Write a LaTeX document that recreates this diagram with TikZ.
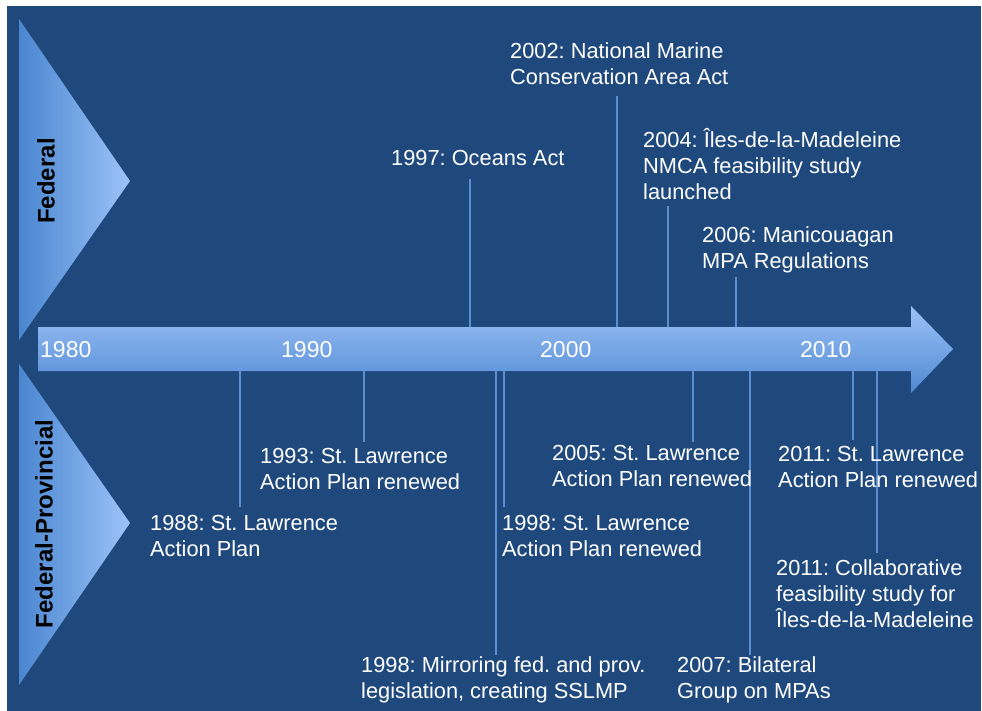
\documentclass[tikz,border=0pt]{standalone}
\usepackage{fontspec}
\setmainfont{Liberation Sans}
\frenchspacing
\newcommand\evstrut{\rule[-5pt]{0pt}{17pt}}
\definecolor{panel}{HTML}{1F497D}
\definecolor{triL}{HTML}{4A86D0}
\definecolor{triR}{HTML}{9CC4FA}
\definecolor{barT}{HTML}{9CC2F7}
\definecolor{barB}{HTML}{4F88D2}
\definecolor{tick}{HTML}{5B8FD4}
\pgfdeclarelayer{back}
\pgfdeclarelayer{leaders}
\pgfsetlayers{back,leaders,main}
\begin{document}
\begin{tikzpicture}[x=1pt,y=-1pt,
  event/.style={anchor=north west, inner sep=0pt, align=left, text=white,
    font=\fontsize{21.8}{26}\selectfont,
    execute at begin node=\evstrut, execute at end node=\evstrut},
  year/.style={anchor=west, inner sep=0pt, text=white, font=\fontsize{23}{26}\selectfont},
  level/.style={rotate=90, inner sep=0pt, text=black, font=\fontsize{24}{28}\selectfont\bfseries},
  conn/.style={draw=tick, line width=1.3pt}]
\useasboundingbox (0,0) rectangle (982,711);

\begin{pgfonlayer}{back}
\fill[white] (0,0) rectangle (982,711);
\fill[panel] (7,6) rectangle (981,711);
% jurisdiction wedges
\shade[left color=triL, right color=triR] (19,19) -- (130,181) -- (19,340) -- cycle;
\shade[left color=triL, right color=triR] (19,364) -- (130,523) -- (19,685) -- cycle;
% time axis
\shade[top color=barT, bottom color=barB]
  (38,327) -- (911,327) -- (911,306) -- (953,349) -- (911,393) -- (911,371) -- (38,371) -- cycle;
\end{pgfonlayer}

\node[level] (fed) at (46,181) {Federal};
\node[level] (fedprov) at (44,524) {Federal-Provincial};

\node[year] (y1980) at (40,350) {1980};
\node[year] (y1990) at (281,350) {1990};
\node[year] (y2000) at (540,350) {2000};
\node[year] (y2010) at (800,350) {2010};

% anchor points on the axis
\coordinate (t1997) at (470,327);
\coordinate (t2002) at (617,327);
\coordinate (t2004) at (668,327);
\coordinate (t2006) at (736,327);
\coordinate (b1988) at (240,371);
\coordinate (b1993) at (364,371);
\coordinate (b1998m) at (496,371);
\coordinate (b1998s) at (504,371);
\coordinate (b2005) at (693,371);
\coordinate (b2007) at (750,371);
\coordinate (b2011s) at (853,371);
\coordinate (b2011c) at (877,371);

% federal events
\node[event] (e1997) at (391,150) {1997: Oceans Act};
\node[event] (e2002) at (510,43) {2002: National Marine\\Conservation Area Act};
\node[event] (e2004) at (643,128) {2004: Îles-de-la-Madeleine\\NMCA feasibility study\\launched};
\node[event] (e2006) at (702,227) {2006: Manicouagan\\MPA Regulations};

% federal-provincial events
\node[event] (e1988) at (150,515) {1988: St. Lawrence\\Action Plan};
\node[event] (e1993) at (260,448) {1993: St. Lawrence\\Action Plan renewed};
\node[event] (e1998s) at (502,515) {1998: St. Lawrence\\Action Plan renewed};
\node[event] (e1998m) at (361,656) {1998: Mirroring fed. and prov.\\legislation, creating SSLMP};
\node[event] (e2005) at (552,445) {2005: St. Lawrence\\Action Plan renewed};
\node[event] (e2007) at (677,656) {2007: Bilateral\\Group on MPAs};
\node[event] (e2011s) at (778,446) {2011: St. Lawrence\\Action Plan renewed};
\node[event] (e2011c) at (776,559) {2011: Collaborative\\feasibility study for\\Îles-de-la-Madeleine};

% leader lines, kept beneath the labels
\begin{pgfonlayer}{leaders}
\draw[conn, shorten >=8pt] (t1997) -- (t1997 |- e1997.south);
\draw[conn, shorten >=6pt] (t2002) -- (t2002 |- e2002.south);
\draw[conn, shorten >=2pt] (t2004) -- (t2004 |- e2004.south);
\draw[conn, shorten >=3pt] (t2006) -- (t2006 |- e2006.south);
\draw[conn, shorten >=8pt] (b1988) -- (b1988 |- e1988.north);
\draw[conn, shorten >=6pt] (b1993) -- (b1993 |- e1993.north);
\draw[conn, shorten >=8pt] (b1998s) -- (b1998s |- e1998s.north);
\draw[conn, shorten >=1pt] (b1998m) -- (b1998m |- e1998m.north);
\draw[conn, shorten >=3pt] (b2005) -- (b2005 |- e2005.north);
\draw[conn, shorten >=1pt] (b2007) -- (b2007 |- e2007.north);
\draw[conn, shorten >=6pt] (b2011s) -- (b2011s |- e2011s.north);
\draw[conn, shorten >=6pt] (b2011c) -- (b2011c |- e2011c.north);
\end{pgfonlayer}
\end{tikzpicture}
\end{document}
